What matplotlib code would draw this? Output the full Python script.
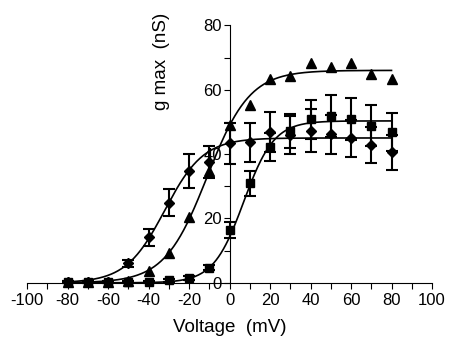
"""Conductance-voltage curves with Boltzmann fits (three conditions)."""

import numpy as np
import matplotlib.pyplot as plt
from matplotlib.ticker import MultipleLocator

plt.rcParams["font.family"] = ["Liberation Sans", "DejaVu Sans"]
plt.rcParams["axes.unicode_minus"] = False

voltage = [-80, -70, -60, -50, -40, -30, -20, -10, 0, 10, 20, 30, 40, 50, 60, 70, 80]

# triangles, no error bars
g_triangle = [0.3, 0.3, 0.3, 0.6, 3.7, 9.4, 20.5, 34.7, 49.0, 55.4, 63.4, 64.2,
              68.2, 67.1, 68.2, 64.9, 63.2]

g_square = [0.2, 0.2, 0.2, 0.3, 0.3, 0.8, 1.5, 4.7, 16.4, 30.9, 42.2, 47.1,
            50.8, 51.8, 50.9, 48.8, 46.9]
err_square = [0.3, 0.3, 0.3, 0.3, 0.3, 0.4, 0.6, 0.8, 2.6, 3.8, 4.5, 5.2,
              6.0, 6.4, 6.5, 6.3, 5.9]

g_diamond = [0.3, 0.3, 0.3, 6.0, 14.1, 24.9, 34.8, 37.6, 43.3, 43.6, 46.8, 45.9,
             47.3, 46.1, 44.9, 42.8, 40.5]
err_diamond = [0.3, 0.3, 0.3, 1.0, 2.6, 4.2, 5.3, 5.0, 6.4, 6.2, 6.3, 6.0,
               6.8, 6.0, 5.7, 5.7, 5.5]

# Boltzmann fit parameters: (gmax, v_half, slope)
FIT_TRIANGLE = (66.0, -11.0, 10.5)
FIT_SQUARE = (50.3, 7.0, 7.5)
FIT_DIAMOND = (45.0, -32.0, 9.6)


def boltzmann(v, gmax, v_half, k):
    return gmax / (1.0 + np.exp((v_half - v) / k))


def main() -> None:
    fig = plt.figure(figsize=(4.5, 3.47), dpi=100)
    ax = fig.add_axes([0.06, 0.185, 0.90, 0.742])

    v_fit = np.linspace(min(voltage), max(voltage), 400)
    for params in (FIT_TRIANGLE, FIT_SQUARE, FIT_DIAMOND):
        ax.plot(v_fit, boltzmann(v_fit, *params), color="black", lw=1.2, zorder=2)

    ax.errorbar(voltage, g_diamond, yerr=err_diamond, fmt="D", ms=5.5, color="black",
                ecolor="black", elinewidth=1.5, capsize=4, capthick=1.5,
                clip_on=False, zorder=3)
    ax.errorbar(voltage, g_square, yerr=err_square, fmt="s", ms=5.5, color="black",
                ecolor="black", elinewidth=1.5, capsize=4, capthick=1.5,
                clip_on=False, zorder=3)
    ax.plot(voltage, g_triangle, "^", ms=6.5, color="black", clip_on=False, zorder=3)

    ax.set_xlim(-100, 100)
    ax.set_ylim(0, 80)

    ax.spines["top"].set_visible(False)
    ax.spines["right"].set_visible(False)
    ax.spines["left"].set_position(("data", 0))
    ax.spines["left"].set_linewidth(0.8)
    ax.spines["bottom"].set_linewidth(0.8)

    ax.xaxis.set_major_locator(MultipleLocator(20))
    ax.xaxis.set_minor_locator(MultipleLocator(10))
    ax.yaxis.set_major_locator(MultipleLocator(20))
    ax.yaxis.set_minor_locator(MultipleLocator(10))
    ax.tick_params(which="both", direction="out", length=4, width=0.8, labelsize=12)
    ax.tick_params(axis="x", pad=3)
    ax.tick_params(axis="y", pad=1.5)

    ax.set_xlabel("Voltage  (mV)", fontsize=13.5, labelpad=8)
    ax.set_ylabel("g max  (nS)", fontsize=13.5)
    ax.yaxis.set_label_coords(0.353, 0.86)

    fig.savefig("out.png", dpi=100)


if __name__ == "__main__":
    main()
